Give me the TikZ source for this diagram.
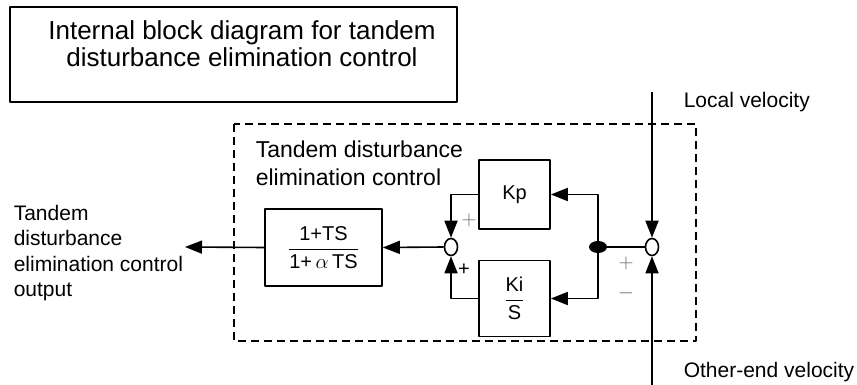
\documentclass[tikz,border=0pt]{standalone}
\usepackage{amsmath}
\usepackage{fontspec}
\setmainfont{Liberation Sans}
\usetikzlibrary{arrows.meta,shapes.geometric}

\begin{document}
\begin{tikzpicture}[x=1pt,y=-1pt,line join=round,line width=1.6pt,>={Triangle[length=17pt,width=13pt]},
	blk/.style={draw,minimum width=71pt,inner sep=0pt,font=\fontsize{20}{24}\selectfont},
	sumpt/.style={draw,ellipse,minimum width=13pt,minimum height=17pt,inner sep=0pt,fill=white},
	lbl/.style={font=\fontsize{21}{25.5}\selectfont,align=left,inner sep=0pt},
	sgn/.style={text=black!60,font=\fontsize{21}{21}\selectfont,inner sep=0pt}]
		\useasboundingbox (0,0) rectangle (857,385);
		% title
		\node (frame) [draw,line width=1.4pt,minimum width=447pt,minimum height=95pt] at (233.5,54.5) {};
		\node (title) [font=\fontsize{26}{27.5}\selectfont,align=center,inner sep=0pt] at (242,43.5) {Internal block diagram for tandem\\disturbance elimination control};
		% controller frame
		\draw[dashed,dash pattern=on 8pt off 5pt] (234,124) rectangle (696,341);
		\node (inner) [font=\fontsize{23}{27.7}\selectfont,align=left,inner sep=0pt,anchor=west] at (255,163) {Tandem disturbance\\elimination control};
		% blocks
		\node (kp) [blk,minimum height=69pt] at (514.5,194.5) {Kp};
		\node (ki) [blk,minimum height=76pt] at (514.5,298.5) {$\dfrac{\text{Ki}}{\text{S}}$};
		\node (filt) [blk,minimum width=117pt,minimum height=77pt] at (323.5,247.5) {$\dfrac{\text{1+TS}}{\text{1+}\,\alpha\,\text{TS}}$};
		\node (sumA) [sumpt] at (451,247) {};
		\node (sumB) [sumpt] at (652,247) {};
		\node (tap) [fill,ellipse,minimum width=18pt,minimum height=12pt,inner sep=0pt] at (598,247) {};
		\coordinate (out) at (185,247);
		\coordinate (loc) at (652,92);
		\coordinate (oth) at (652,385);
		% signals
		\draw[->] (kp.west) -| (sumA.north);
		\draw[->] (ki.west) -| (sumA.south);
		\draw[->] (sumA.west) -- (filt.east);
		\draw[->] (filt.west) -- (out);
		\draw (sumB.west) -- (tap.center);
		\foreach \p in {kp,ki} \draw[->] (tap.center) |- (\p.east);
		\draw[->] (loc) -- (sumB.north);
		\draw[->] (oth) -- (sumB.south);
		% signs
		\node (pkp) [sgn] at (469,220) {$+$};
		\node (pki) [inner sep=0pt,font=\fontsize{20}{20}\selectfont] at (464,270) {+};
		\node (ploc) [sgn] at (626,263) {$+$};
		\node (moth) [sgn] at (626,293) {$-$};
		% labels
		\node (outlbl) [lbl,anchor=west] at (13,253) {Tandem\\disturbance\\elimination control\\output};
		\node (loclbl) [lbl,anchor=base west] at (683,108) {Local velocity};
		\node (othlbl) [lbl,anchor=base west] at (683,377) {Other-end velocity};
	\end{tikzpicture}
\end{document}
